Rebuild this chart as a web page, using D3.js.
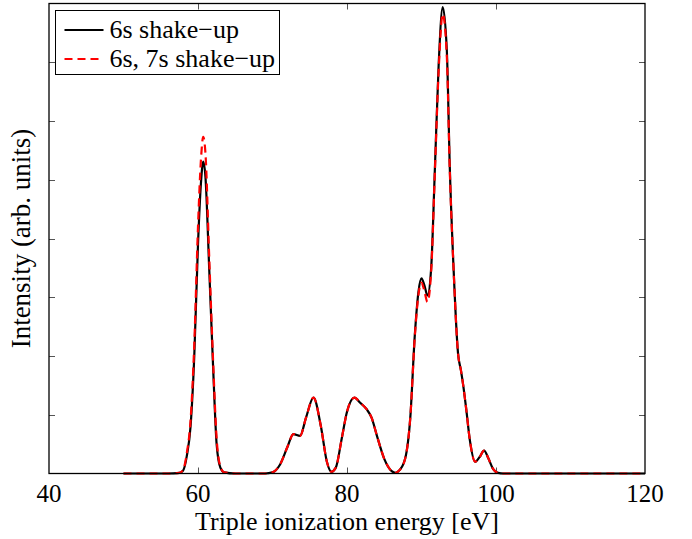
<!DOCTYPE html>
<html>
<head>
<meta charset="utf-8">
<script src="https://cdn.jsdelivr.net/npm/d3@7"></script>
<style>
  body { margin: 0; background: #fff; }
  svg text { font-family: "Liberation Serif", "Times New Roman", serif; fill: #000; }
</style>
</head>
<body>
<div class="container"></div>
<script>
// energies in eV, shared by both curves
var energy = [50, 56, 57.5, 58, 58.5, 59, 59.5, 60, 60.4, 60.7, 61, 61.5, 62, 62.5, 63, 63.5, 65,
    69, 70, 71, 72, 72.8, 73.7, 74.5, 75.5, 76.5, 77.3, 77.9, 78.5, 79.3, 80, 81, 81.8, 82.6, 83.3,
    84, 85, 86, 86.5, 87, 87.8, 88.5, 89.1, 89.6, 90, 90.4, 90.8, 91.3, 91.8, 92.3, 92.85, 93.4,
    93.8, 94.3, 94.9, 95.3, 95.6, 96, 96.5, 97.2, 97.8, 98.4, 99, 99.6, 100.3, 101, 105, 120];

var shake6s = [0, 0, 0.01, 0.05, 0.3, 0.8, 2.0, 3.9, 4.95, 5.31, 5.05, 3.5, 1.9, 0.5, 0.1, 0.02, 0,
    0, 0.02, 0.15, 0.45, 0.67, 0.64, 0.95, 1.29, 0.8, 0.2, 0.03, 0.1, 0.6, 1.05, 1.29, 1.2, 1.1, 0.95,
    0.65, 0.25, 0.04, 0.01, 0.05, 0.25, 0.96, 2.35, 3.1, 3.32, 3.2, 3.03, 3.5, 5.2, 6.95, 7.94, 7.2,
    5.2, 3.5, 2.05, 1.75, 1.5, 1.1, 0.56, 0.2, 0.28, 0.39, 0.25, 0.08, 0.01, 0, 0, 0];

var shake6s7s = [0, 0, 0.01, 0.06, 0.35, 0.9, 2.2, 4.2, 5.35, 5.73, 5.45, 3.7, 2.0, 0.6, 0.12, 0.02, 0,
    0, 0.02, 0.15, 0.45, 0.67, 0.64, 0.95, 1.29, 0.8, 0.2, 0.03, 0.1, 0.6, 1.05, 1.29, 1.2, 1.1, 0.95,
    0.65, 0.25, 0.04, 0.01, 0.05, 0.25, 0.96, 2.33, 3.05, 3.25, 3.1, 2.92, 3.45, 5.15, 6.85, 7.82, 7.1,
    5.15, 3.5, 2.05, 1.75, 1.5, 1.1, 0.56, 0.2, 0.28, 0.39, 0.25, 0.08, 0.01, 0, 0, 0];

var seriesNames = ['6s shake\u2212up', '6s, 7s shake\u2212up'];
var xTicks = [40, 60, 80, 100, 120];
var yTicks = [1, 2, 3, 4, 5, 6, 7];

var translate = function (x, y) {
    return 'translate(' + x + ', ' + y + ')';
};

var visualize = function () {
    const WIDTH = 692;
    const HEIGHT = 539;
    const LEFT = 49, RIGHT = 645, TOP = 3.5, BOTTOM = 473.5;
    const TICK = 6;
    const FONT = 26;

    var xScale = d3.scaleLinear().domain([40, 120]).range([LEFT, RIGHT]);
    var yScale = d3.scaleLinear().domain([0, 8]).range([BOTTOM, TOP]);

    var svg = d3.select('.container')
        .append('svg')
        .attr('width', WIDTH)
        .attr('height', HEIGHT);

    svg.append('rect')
        .attr('width', WIDTH).attr('height', HEIGHT)
        .attr('fill', '#fff');

    // ticks on all four sides, pointing inwards
    var ticks = svg.append('g').attr('stroke', '#555').attr('stroke-width', 1);
    xTicks.slice(1, -1).forEach(function (t) {
        var x = Math.round(xScale(t)) + 0.5;
        ticks.append('line').attr('x1', x).attr('x2', x).attr('y1', BOTTOM).attr('y2', BOTTOM - TICK);
        ticks.append('line').attr('x1', x).attr('x2', x).attr('y1', TOP).attr('y2', TOP + TICK);
    });
    yTicks.forEach(function (t) {
        var y = Math.round(yScale(t)) + 0.5;
        ticks.append('line').attr('x1', LEFT).attr('x2', LEFT + TICK).attr('y1', y).attr('y2', y);
        ticks.append('line').attr('x1', RIGHT).attr('x2', RIGHT - TICK).attr('y1', y).attr('y2', y);
    });

    var points = function (values) {
        return energy.map(function (e, i) { return {x: e, y: values[i]}; });
    };

    var line = d3.line()
        .x(function (d) { return xScale(d.x); })
        .y(function (d) { return yScale(d.y); })
        .curve(d3.curveMonotoneX);

    var plot = svg.append('g').attr('fill', 'none');
    plot.append('path')
        .datum(points(shake6s))
        .attr('d', line)
        .attr('stroke', '#000')
        .attr('stroke-width', 2.2);
    plot.append('path')
        .datum(points(shake6s7s))
        .attr('d', line)
        .attr('stroke', '#ff0000')
        .attr('stroke-width', 2.2)
        .attr('stroke-dasharray', '8,5');

    // axes box
    svg.append('rect')
        .attr('x', LEFT).attr('y', TOP)
        .attr('width', RIGHT - LEFT).attr('height', BOTTOM - TOP)
        .attr('fill', 'none')
        .attr('stroke', '#000')
        .attr('stroke-width', 1.3);

    // tick labels
    svg.append('g').selectAll('text')
        .data(xTicks)
        .enter()
        .append('text')
        .attr('x', function (d) { return xScale(d); })
        .attr('y', 502)
        .attr('text-anchor', 'middle')
        .attr('font-size', 25)
        .text(function (d) { return d; });

    svg.append('text')
        .attr('x', (LEFT + RIGHT) / 2)
        .attr('y', 530)
        .attr('text-anchor', 'middle')
        .attr('font-size', FONT)
        .text('Triple ionization energy [eV]');

    svg.append('text')
        .attr('transform', translate(30, (TOP + BOTTOM) / 2) + ' rotate(-90)')
        .attr('text-anchor', 'middle')
        .attr('font-size', 27)
        .text('Intensity (arb. units)');

    // legend
    var legend = svg.append('g').attr('transform', translate(55.5, 10.5));
    legend.append('rect')
        .attr('width', 224).attr('height', 64)
        .attr('fill', '#fff')
        .attr('stroke', '#000')
        .attr('stroke-width', 1);
    var styles = [{color: '#000', dash: null}, {color: '#ff0000', dash: '8,5'}];
    seriesNames.forEach(function (name, i) {
        var y = 19.5 + i * 29;
        legend.append('line')
            .attr('x1', 9).attr('x2', 48)
            .attr('y1', y).attr('y2', y)
            .attr('stroke', styles[i].color)
            .attr('stroke-width', 2.2)
            .attr('stroke-dasharray', styles[i].dash);
        legend.append('text')
            .attr('x', 54)
            .attr('y', y + 8)
            .attr('font-size', FONT)
            .text(name);
    });
};

window.onload = visualize;
</script>
</body>
</html>
